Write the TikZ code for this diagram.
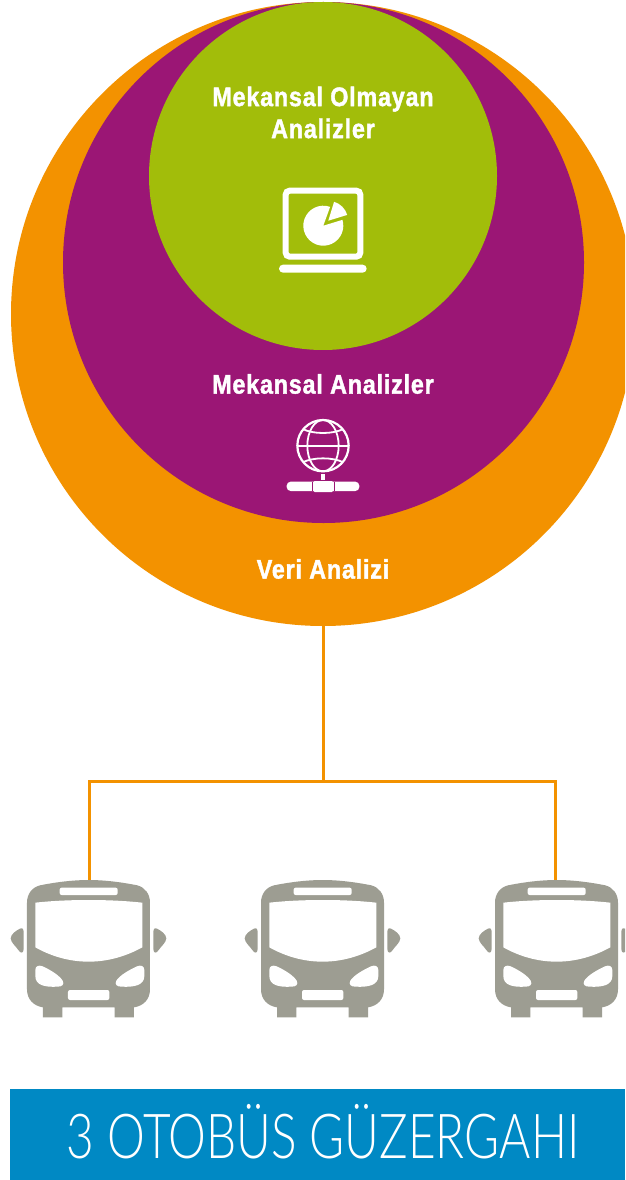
\documentclass[tikz,border=0pt]{standalone}
\usepackage{fontspec}
\setmainfont{Liberation Sans}
\newfontfamily\boldlabel[FakeStretch=0.87,LetterSpace=3,FakeBold=1.5]{Liberation Sans Bold}
\newfontfamily\banner[FakeStretch=0.77]{Lato Light}
\definecolor{cOrange}{HTML}{F39200}
\definecolor{cPurple}{HTML}{9B1675}
\definecolor{cGreen}{HTML}{A2BD0A}
\definecolor{cBlue}{HTML}{0089C4}
\definecolor{cGrey}{HTML}{9D9D92}
\tikzset{
  disc/.style={circle,inner sep=0pt,draw=none},
  label text/.style={text=white,font=\boldlabel\fontsize{26.8}{32}\selectfont,align=center,inner sep=0pt},
  wire/.style={draw=cOrange,line width=3pt},
  busbody/.style={fill=cGrey,draw=none},
  buscut/.style={fill=white,draw=none}
}
\newcommand{\busicon}[1]{%
\begin{scope}[shift={(#1,870)},x=0.33333pt,y=-0.33333pt]
  \path[busbody] (120,46) .. controls (170,36) and (220,30) .. (266,30) .. controls (312,30) and (362,36) .. (412,46)
    .. controls (435,52) and (450,72) .. (450,98) -- (450,358) .. controls (450,388) and (430,408) .. (402,412)
    -- (402,442) -- (344,442) -- (344,412) -- (187,412) -- (187,442) -- (129,442) -- (129,412)
    .. controls (101,408) and (81,388) .. (81,358) -- (81,98) .. controls (81,72) and (96,52) .. (120,46) -- cycle;
  \path[buscut,rounded corners=2pt] (179,53) rectangle (353,75);
  \path[buscut,rounded corners=2pt] (204,360) rectangle (328,390);
  \path[buscut] (106,98) .. controls (160,92) and (215,90) .. (266,90) .. controls (317,90) and (372,92) .. (427,98)
    -- (427,232) .. controls (380,258) and (325,275) .. (266,275) .. controls (207,275) and (152,258) .. (106,232) -- cycle;
  \path[buscut] (106,300) .. controls (106,288) and (116,284) .. (128,289) .. controls (152,300) and (178,316) .. (188,332)
    .. controls (194,344) and (186,350) .. (172,350) .. controls (135,352) and (106,346) .. (106,318) -- cycle;
  \path[buscut] (433,300) .. controls (433,288) and (423,284) .. (411,289) .. controls (387,300) and (359,316) .. (349,332)
    .. controls (343,344) and (351,350) .. (365,350) .. controls (402,352) and (433,346) .. (433,318) -- cycle;
  \path[busbody] (60,176) .. controls (68,172) and (71,178) .. (71,188) -- (71,236) .. controls (71,250) and (62,252) .. (55,240)
    .. controls (47,228) and (33,218) .. (32,205) .. controls (33,192) and (48,182) .. (60,176) -- cycle;
  \path[busbody] (471,176) .. controls (463,172) and (460,178) .. (460,188) -- (460,236) .. controls (460,250) and (469,252) .. (476,240)
    .. controls (484,228) and (498,218) .. (499,205) .. controls (498,192) and (483,182) .. (471,176) -- cycle;
\end{scope}}
\begin{document}
\begin{tikzpicture}[x=1pt,y=-1pt]
  \useasboundingbox (0,0) rectangle (625,1180);
  \clip (0,0) rectangle (625,1180);
  \fill[white] (0,0) rectangle (625,1180);
  % connectors
  \node[disc,fill=cOrange,minimum size=624pt] (veri) at (323,314) {};
  \coordinate (fork) at (323,781.5);
  \coordinate (bus1top) at (89.5,882);
  \coordinate (bus2top) at (323,882);
  \coordinate (bus3top) at (555,882);
  \draw[wire] (veri.south) -- (fork);
  \draw[wire,line cap=rect] (bus1top) |- (fork);
  \draw[wire,line cap=rect] (bus3top) |- (fork);
  \node[disc,fill=cPurple,minimum size=521pt] (mekansal) at (323.5,262.5) {};
  \node[disc,fill=cGreen,minimum size=348pt] (olmayan) at (323,176) {};
  % labels
  \node[label text] (t1) at (323,112.5) {Mekansal Olmayan\\Analizler};
  \node[label text] (t2) at (323,384) {Mekansal Analizler};
  \node[label text] (t3) at (323,569) {Veri Analizi};
  % laptop icon
  \begin{scope}[shift={(260,170)},x=0.33333pt,y=-0.33333pt]
    \draw[white,line width=6pt,rounded corners=4pt] (77,62) rectangle (301,260);
    \fill[white,rounded corners=4pt] (57,284) rectangle (320,308);
  \end{scope}
  \begin{scope}[shift={(323.3,225.7)},x=1pt,y=1pt]
    \fill[white] (0,0) -- (70:20) arc[start angle=70,end angle=377,radius=20] -- cycle;
    \fill[white] (5,5) -- ++(73:19.8) arc[start angle=73,end angle=17,radius=19.8] -- cycle;
  \end{scope}
  % globe icon
  \begin{scope}[shift={(270,405)},x=0.33333pt,y=-0.33333pt]
    \draw[white,line width=2.2pt] (159,122) circle[radius=77];
    \draw[white,line width=1.8pt] (159,122) ellipse[x radius=47,y radius=77];
    \draw[white,line width=1.8pt] (82,122) -- (236,122);
    \draw[white,line width=1.8pt] (98,72) .. controls (130,88) and (188,88) .. (220,72);
    \draw[white,line width=1.8pt] (98,172) .. controls (130,156) and (188,156) .. (220,172);
    \fill[white] (152,207) rectangle (166,226);
    \fill[white,rounded corners=4pt] (50,230) rectangle (268,258);
    \fill[white,rounded corners=1.5pt] (129,228) rectangle (190,261);
    \draw[cPurple,line width=0.6pt] (126,230) -- (126,258) (192,230) -- (192,258);
  \end{scope}
  % buses
  \busicon{0}
  \busicon{234}
  \busicon{468}
  % banner
  \fill[cBlue] (10,1089) rectangle (625,1180);
  \node[text=white,font=\banner\fontsize{62}{70}\selectfont,inner sep=0pt] (title) at (323,1132) {3 OTOBÜS GÜZERGAHI};
\end{tikzpicture}
\end{document}
